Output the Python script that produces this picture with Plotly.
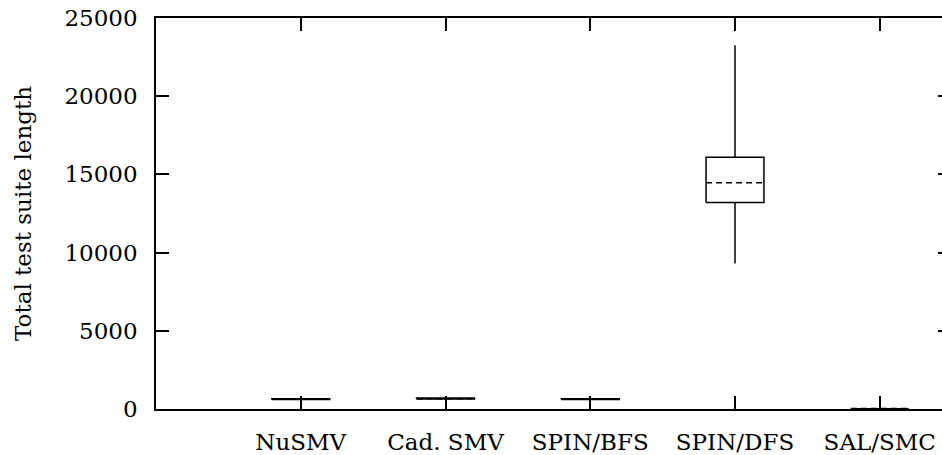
import plotly.graph_objects as go

# Box-plot statistics per model checker (total test suite length)
checkers = ["NuSMV", "Cad. SMV", "SPIN/BFS", "SPIN/DFS", "SAL/SMC"]
positions = [1, 2, 3, 4, 5]
whisker_low = [580, 620, 580, 9300, 10]
quartile_1 = [600, 640, 600, 13200, 15]
medians = [620, 660, 620, 14470, 30]
quartile_3 = [650, 700, 650, 16090, 50]
whisker_high = [680, 730, 680, 23250, 60]

y_ticks = [0, 5000, 10000, 15000, 20000, 25000]

HALF_WIDTH = 0.2
FONT = dict(family="DejaVu Serif", size=23, color="black")
LINE = dict(color="black", width=1.5)

fig = go.Figure()

for x, lo, q1, med, q3, hi in zip(positions, whisker_low, quartile_1, medians,
                                   quartile_3, whisker_high):
    # whiskers (no end caps)
    fig.add_trace(go.Scatter(
        x=[x, x, None, x, x], y=[q3, hi, None, q1, lo],
        mode="lines", line=LINE, showlegend=False, hoverinfo="skip"))
    # box
    fig.add_trace(go.Scatter(
        x=[x - HALF_WIDTH, x + HALF_WIDTH, x + HALF_WIDTH, x - HALF_WIDTH, x - HALF_WIDTH],
        y=[q1, q1, q3, q3, q1],
        mode="lines", fill="toself", fillcolor="white",
        line=LINE, showlegend=False, hoverinfo="skip"))
    # dashed median
    fig.add_trace(go.Scatter(
        x=[x - HALF_WIDTH, x + HALF_WIDTH], y=[med, med],
        mode="lines", line=dict(color="black", width=1.5, dash="6px,4px"),
        showlegend=False, hoverinfo="skip"))

# carrier for the right-hand tick marks
fig.add_trace(go.Scatter(x=[1], y=[0], yaxis="y2", mode="none",
                         showlegend=False, hoverinfo="skip"))

fig.update_layout(
    width=942, height=455,
    margin=dict(l=156, r=0, t=18, b=46, autoexpand=False),
    paper_bgcolor="white", plot_bgcolor="white",
    font=FONT,
    xaxis=dict(
        range=[0, 5.43], tickvals=positions, ticktext=checkers,
        ticks="inside", ticklen=13, tickwidth=1.5, tickcolor="black",
        showline=True, linewidth=1.5, linecolor="black", mirror="ticks",
        showgrid=False, zeroline=False, tickfont=FONT,
        ticklabelstandoff=12, automargin=False,
    ),
    yaxis=dict(
        range=[0, 25000], tickvals=y_ticks, ticktext=[str(v) for v in y_ticks],
        ticks="inside", ticklen=13, tickwidth=1.5, tickcolor="black",
        showline=True, linewidth=1.5, linecolor="black", mirror=False,
        showgrid=False, zeroline=False, tickfont=FONT,
        ticklabelstandoff=12, automargin=False,
        title=dict(text="Total test suite length", font=FONT, standoff=26),
    ),
    yaxis2=dict(
        range=[0, 25000], tickvals=y_ticks, overlaying="y", side="right",
        ticks="inside", ticklen=4, tickwidth=1.5, tickcolor="black",
        showline=False, showgrid=False, zeroline=False, showticklabels=False,
        automargin=False,
    ),
)

fig.write_html("out.html")
